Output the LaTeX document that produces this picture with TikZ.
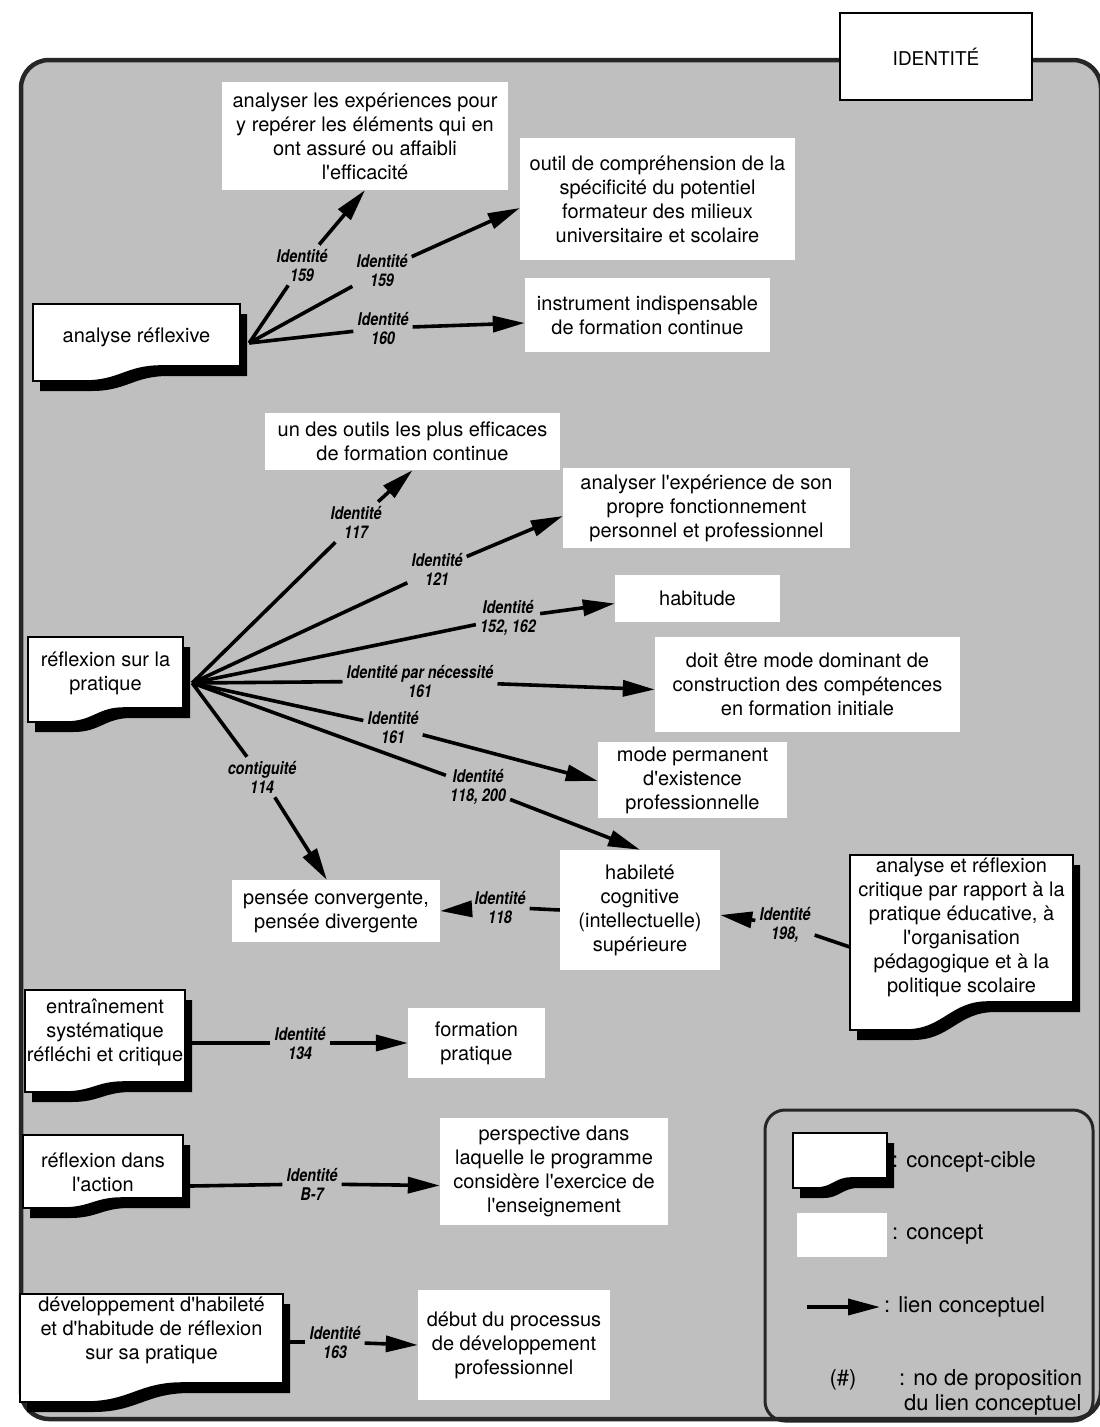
\documentclass[tikz,border=0pt]{standalone}
\usepackage{fontspec}
\setmainfont{TeX Gyre Heros}[Ligatures=TeXOff]
\newfontfamily\linkfont{TeX Gyre Heros}[Ligatures=TeXOff, FakeStretch=0.82]
\usetikzlibrary{arrows.meta,calc}

\definecolor{screen}{gray}{0.75}

\tikzset{
  concept/.style={fill=white, inner sep=0pt, align=center, font=\fontsize{20}{24}\selectfont},
  cibletext/.style={inner sep=0pt, align=center, font=\fontsize{20}{24}\selectfont},
  linklabel/.style={inner sep=4pt, align=center, font=\linkfont\fontsize{17.5}{19}\selectfont\bfseries\itshape},
  link/.style={line width=3.6pt},
  linkarrow/.style={link, -{Triangle[length=32pt,width=16pt]}},
  legendtext/.style={inner sep=0pt, anchor=west, font=\fontsize{22}{25}\selectfont},
}

% target-concept sheet: white page with a curled lower edge and a black drop shadow
% #1 x1, #2 y1 (top), #3 x2, #4 y2 (lowest point of the lower edge), #5 rise of the curl
\newcommand{\sheetshape}[5]{%
  \fill[black, shift={(7,10)}] (#1,#2) -- (#3,#2) -- (#3,{#4-#5})
    -- ({#1+0.62*(#3-#1)},{#4-#5}) .. controls ({#1+0.45*(#3-#1)},{#4-#5}) and ({#1+0.42*(#3-#1)},#4)
    .. ({#1+0.25*(#3-#1)},#4) -- (#1,#4) -- cycle;
  \filldraw[fill=white, draw=black, line width=1.6pt] (#1,#2) -- (#3,#2) -- (#3,{#4-#5})
    -- ({#1+0.62*(#3-#1)},{#4-#5}) .. controls ({#1+0.45*(#3-#1)},{#4-#5}) and ({#1+0.42*(#3-#1)},#4)
    .. ({#1+0.25*(#3-#1)},#4) -- (#1,#4) -- cycle;
}
% #1 name, #2..#6 as above, #7 y of the text centre, #8 text
\newcommand{\targetsheet}[8]{%
  \sheetshape{#2}{#3}{#4}{#5}{#6}
  \node[cibletext, minimum width={#4-#2}] (#1) at ({(#2+#4)/2},#7) {#8};
}

\begin{document}
\begin{tikzpicture}[x=1pt, y=-1pt]
\useasboundingbox (0,0) rectangle (1100,1427);
\fill[white] (0,0) rectangle (1100,1427);

% main frame
\filldraw[fill=screen, draw=black!85, line width=4.5pt, rounded corners=28pt] (21,60) rectangle (1101,1419);
\node[draw, fill=white, line width=1.2pt, minimum width=192, minimum height=87,
      font=\fontsize{19}{22}\selectfont] (title) at (936,56.5) {IDENTITÉ};

% target concepts
\targetsheet{ar}{33}{304}{240}{381}{15}{337}{analyse réflexive}
\targetsheet{rp}{28}{637}{183}{722}{14}{673}{réflexion sur la\\pratique}
\targetsheet{ent}{25}{990}{185}{1092}{10}{1032}{entraînement\\systématique\\réfléchi et critique}
\targetsheet{ra}{23}{1135}{183}{1208}{10}{1172}{réflexion dans\\l'action}
\targetsheet{dev}{20}{1294}{283}{1402}{19}{1330}{développement d'habileté\\et d'habitude de réflexion\\sur sa pratique}
\targetsheet{an}{850}{855}{1073}{1030}{28}{927}{analyse et réflexion\\critique par rapport à la\\pratique éducative, à\\l'organisation\\pédagogique et à la\\politique scolaire}

% concepts
\node[concept, minimum width=286, minimum height=108] (a) at (365,136) {analyser les expériences pour\\y repérer les éléments qui en\\ont assuré ou affaibli\\l'efficacité};
\node[concept, minimum width=275, minimum height=122] (b) at (657.5,199) {outil de compréhension de la\\spécificité du potentiel\\formateur des milieux\\universitaire et scolaire};
\node[concept, minimum width=245, minimum height=74] (c) at (647.5,315) {instrument indispensable\\de formation continue};
\node[concept, minimum width=295, minimum height=57] (d) at (412.5,441.5) {un des outils les plus efficaces\\de formation continue};
\node[concept, minimum width=287, minimum height=80] (e) at (706.5,508) {analyser l'expérience de son\\propre fonctionnement\\personnel et professionnel};
\node[concept, minimum width=165, minimum height=47] (f) at (697.5,598.5) {habitude};
\node[concept, minimum width=305, minimum height=95] (g) at (807.5,684.5) {doit être mode dominant de\\construction des compétences\\en formation initiale};
\node[concept, minimum width=189, minimum height=76] (h) at (692.5,780) {mode permanent\\d'existence\\professionnelle};
\node[concept, minimum width=160, minimum height=120] (i) at (640,910) {habileté\\cognitive\\(intellectuelle)\\supérieure};
\node[concept, minimum width=208, minimum height=62] (j) at (336,911) {pensée convergente,\\pensée divergente};
\node[concept, minimum width=137, minimum height=70] (k) at (476.5,1043) {formation\\pratique};
\node[concept, minimum width=228, minimum height=107] (l) at (554,1171.5) {perspective dans\\laquelle le programme\\considère l'exercice de\\l'enseignement};
\node[concept, minimum width=192, minimum height=110] (m) at (514,1345) {début du processus\\de développement\\professionnel};

% links from "analyse réflexive"
\coordinate (o1) at ($(ar.east)+(9,6)$);
\node[linklabel] (l1) at (302,265) {Identité\\159};
\node[linklabel] (l2) at (382,270) {Identité\\159};
\node[linklabel] (l3) at (383,328) {Identité\\160};
\draw[link] (o1) -- (l1);  \draw[linkarrow] (l1) -- (a.south);
\draw[link] (o1) -- (l2);  \draw[linkarrow] (l2) -- ($(b.west)+(0,9)$);
\draw[link] (o1) -- (l3);  \draw[linkarrow] (l3) -- ($(c.west)+(0,8)$);

% links from "réflexion sur la pratique"
\coordinate (o2) at ($(rp.east)+(9,10)$);
\node[linklabel] (l4) at (356,522) {Identité\\117};
\node[linklabel] (l5) at (437,569) {Identité\\121};
\node[linklabel] (l6) at (508,618) {Identité\\152, 162};
\node[linklabel] (l7) at (420,681) {Identité par nécessité\\161};
\node[linklabel] (l8) at (393,727) {Identité\\161};
\node[linklabel] (l9) at (478,787) {Identité\\118, 200};
\node[linklabel] (l10) at (262,777) {contiguité\\114};
\draw[link] (o2) -- (l4);  \draw[linkarrow] (l4) -- (d.south);
\draw[link] (o2) -- (l5);  \draw[linkarrow] (l5) -- ($(e.west)+(0,8)$);
\draw[link] (o2) -- (l6);  \draw[linkarrow] (l6) -- ($(f.west)+(0,5)$);
\draw[link] (o2) -- (l7);  \draw[linkarrow] (l7) -- ($(g.west)+(0,5)$);
\draw[link] (o2) -- (l8);  \draw[linkarrow] (l8) -- ($(h.west)+(0,1)$);
\draw[link] (o2) -- (l9);  \draw[linkarrow] (l9) -- (i.north);
\draw[link] (o2) -- (l10); \draw[linkarrow] (l10) -- ($(j.north west)+(95,0)$);

% links around "habileté cognitive"
\node[linklabel] (l11) at (500,907) {Identité\\118};
\draw[link] (i.west) -- (l11);  \draw[linkarrow] (l11) -- (j.east);
\node[linklabel] (l12) at (785,925) {Identité\\198,};
\draw[link] ($(an.west)+(0,20)$) -- (l12);  \draw[linkarrow] (l12) -- ($(i.east)+(0,5)$);

% lower links
\node[linklabel] (l13) at (300,1043) {Identité\\134};
\draw[link] ($(ent.east)+(7,11)$) -- (l13);  \draw[linkarrow] (l13) -- (k.west);
\node[linklabel] (l14) at (312,1184) {Identité\\B-7};
\draw[link] ($(ra.east)+(7,14)$) -- (l14);  \draw[linkarrow] (l14) -- ($(l.west)+(0,14)$);
\node[linklabel] (l15) at (335,1342) {Identité\\163};
\draw[link] ($(dev.east)+(7,12)$) -- (l15);  \draw[linkarrow] (l15) -- (m.west);

% legend
\draw[line width=3pt, draw=black!85, rounded corners=20pt] (765,1110) rectangle (1093,1421);
\sheetshape{793}{1133}{887}{1188}{10}
\node[concept, minimum width=90, minimum height=44] (lgc) at (842,1235) {};
\coordinate (lga) at (807,1307);
\coordinate (lgb) at (880,1307);
\draw[linkarrow] (lga) -- (lgb);
\node[legendtext] (lt1) at (892,1162) {: concept-cible};
\node[legendtext] (lt2) at (892,1235) {: concept};
\node[legendtext] (lt3) at (884,1307) {: lien conceptuel};
\node[legendtext, anchor=center] (lt4) at (843,1380) {(\#)};
\node[legendtext] (lt5) at (899,1380) {: no de proposition};
\node[legendtext] (lt6) at (904,1405) {du lien conceptuel};
\end{tikzpicture}
\end{document}
